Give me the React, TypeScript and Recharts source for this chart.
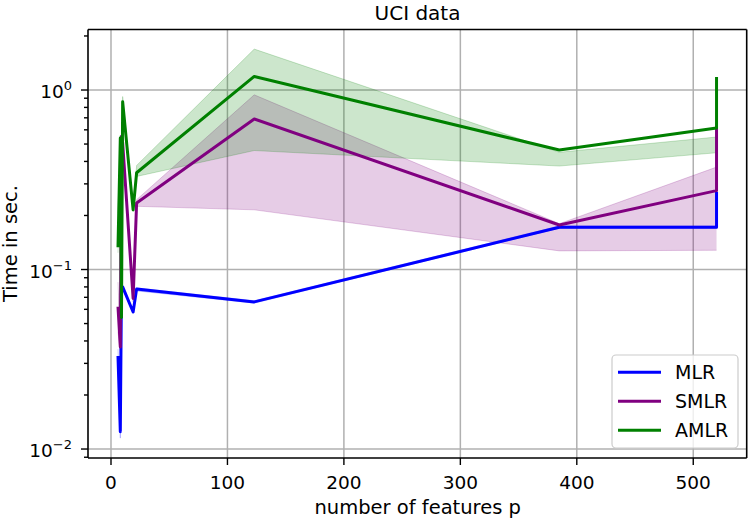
import React from 'react';
import {
  ComposedChart,
  Line,
  Area,
  XAxis,
  YAxis,
  CartesianGrid,
  ReferenceLine,
  Customized,
} from 'recharts';

// number of features of each UCI data set (x axis)
const featureCounts = [6, 8, 9, 10, 19, 22, 123, 385, 520, 520];

// mean run time in seconds, and the spread shown as a band
const mlrTime = [0.033, 0.0125, 0.08, 0.08, 0.058, 0.078, 0.066, 0.172, 0.172, 0.27];
const mlrLow = [0.029, 0.0115, 0.077, 0.078, 0.057, 0.076, 0.065, 0.17, 0.17, 0.265];
const mlrHigh = [0.036, 0.0135, 0.083, 0.082, 0.059, 0.079, 0.067, 0.175, 0.175, 0.28];

const smlrTime = [0.062, 0.037, 0.55, 0.51, 0.069, 0.235, 0.69, 0.177, 0.275, 0.614];
const smlrLow = [0.045, 0.034, 0.5, 0.49, 0.066, 0.225, 0.215, 0.127, 0.128, 0.128];
const smlrHigh = [0.085, 0.04, 0.58, 0.53, 0.072, 0.245, 0.94, 0.18, 0.372, 0.372];

const amlrTime = [0.133, 0.54, 0.054, 0.86, 0.215, 0.346, 1.19, 0.463, 0.614, 1.18];
const amlrLow = [0.124, 0.5, 0.05, 0.8, 0.21, 0.33, 0.46, 0.377, 0.447, 0.447];
const amlrHigh = [0.206, 0.56, 0.06, 0.92, 0.23, 0.38, 1.69, 0.45, 0.547, 0.547];

const xTicks = [0, 100, 200, 300, 400, 500];
const yMajorTicks = [0.01, 0.1, 1];
const yMinorTicks = [
  0.009,
  0.02, 0.03, 0.04, 0.05, 0.06, 0.07, 0.08, 0.09,
  0.2, 0.3, 0.4, 0.5, 0.6, 0.7, 0.8, 0.9,
  2,
];
const yExponents = ['\u22122', '\u22121', '0'];

const series = [
  { key: 'mlr', name: 'MLR', color: 'blue' },
  { key: 'smlr', name: 'SMLR', color: 'purple' },
  { key: 'amlr', name: 'AMLR', color: 'green' },
];

const rows = featureCounts.map((p, i) => ({
  p,
  mlr: mlrTime[i],
  mlrBand: [mlrLow[i], mlrHigh[i]],
  smlr: smlrTime[i],
  smlrBand: [smlrLow[i], smlrHigh[i]],
  amlr: amlrTime[i],
  amlrBand: [amlrLow[i], amlrHigh[i]],
}));

const xDomain = [-19.75, 545.9];
const yDomain = [0.008913, 2.173];

const FONT = '"DejaVu Sans", sans-serif';

const XTick = (props: any) => {
  const { x, y, payload } = props;
  return (
    <text x={x} y={y + 23.5} textAnchor="middle" fontSize={18.5} fontFamily={FONT} fill="#000">
      {payload.value}
    </text>
  );
};

const YTick = (props: any) => {
  const { x, y, payload } = props;
  const idx = yMajorTicks.indexOf(payload.value);
  const major = idx >= 0;
  return (
    <g>
      <line x1={x - (major ? 7 : 4)} x2={x} y1={y} y2={y} stroke="#000" strokeWidth={1.4} />
      {major && (
        <text x={x - 16} y={y + 8} textAnchor="end" fontSize={18.5} fontFamily={FONT} fill="#000">
          <tspan>10</tspan>
          <tspan dy={-8} fontSize={13}>{yExponents[idx]}</tspan>
        </text>
      )}
    </g>
  );
};

const Decorations = () => (
  <g fontFamily={FONT} fill="#000">
    <text x={417.5} y={19.5} textAnchor="middle" fontSize={20}>UCI data</text>
    <text x={417.7} y={514} textAnchor="middle" fontSize={19.5}>number of features p</text>
    <text
      x={17}
      y={243.5}
      textAnchor="middle"
      fontSize={19.5}
      transform="rotate(-90 17 243.5)"
    >
      Time in sec.
    </text>
    <g>
      <rect x={612} y={355} width={126} height={93} rx={4} fill="#fff" fillOpacity={0.8} stroke="#cccccc" strokeWidth={1.2} />
      {series.map((s, i) => (
        <g key={s.key}>
          <line x1={618} x2={661} y1={372.3 + i * 29} y2={372.3 + i * 29} stroke={s.color} strokeWidth={3} />
          <text x={675} y={379.3 + i * 29} fontSize={19} fill="#000">{s.name}</text>
        </g>
      ))}
    </g>
  </g>
);

export default function App() {
  return (
    <div style={{ position: 'absolute', left: 0, top: 0, width: 748, height: 519, background: '#fff' }}>
      <ComposedChart
        width={748}
        height={519}
        data={rows}
        margin={{ top: 29.5, right: 1.3, bottom: 21, left: 8 }}
      >
        <CartesianGrid
          stroke="#b0b0b0"
          strokeWidth={1.5}
          horizontalValues={yMajorTicks}
          verticalValues={xTicks}
        />
        <XAxis
          dataKey="p"
          type="number"
          domain={xDomain}
          ticks={xTicks}
          allowDataOverflow
          height={40}
          tickSize={7}
          tickMargin={0}
          tickLine={{ stroke: '#000', strokeWidth: 1.4 }}
          axisLine={{ stroke: '#000', strokeWidth: 1.6 }}
          tick={<XTick />}
        />
        <YAxis
          scale="log"
          type="number"
          domain={yDomain}
          ticks={[...yMajorTicks, ...yMinorTicks]}
          allowDataOverflow
          width={80}
          tickSize={0}
          tickMargin={0}
          tickLine={false}
          axisLine={{ stroke: '#000', strokeWidth: 1.6 }}
          tick={<YTick />}
          interval={0}
        />
        {series.map((s) => (
          <Area
            key={s.key + 'Band'}
            type="linear"
            dataKey={s.key + 'Band'}
            stroke={s.color}
            strokeOpacity={0.2}
            strokeWidth={1}
            fill={s.color}
            fillOpacity={0.2}
            dot={false}
            activeDot={false}
            isAnimationActive={false}
          />
        ))}
        {series.map((s) => (
          <Line
            key={s.key}
            type="linear"
            dataKey={s.key}
            name={s.name}
            stroke={s.color}
            strokeWidth={3}
            strokeLinejoin="round"
            dot={false}
            activeDot={false}
            isAnimationActive={false}
          />
        ))}
        <ReferenceLine y={yDomain[1]} stroke="#000" strokeWidth={1.6} ifOverflow="visible" />
        <ReferenceLine x={xDomain[1]} stroke="#000" strokeWidth={1.6} ifOverflow="visible" />
        <Customized component={Decorations} />
      </ComposedChart>
    </div>
  );
}
